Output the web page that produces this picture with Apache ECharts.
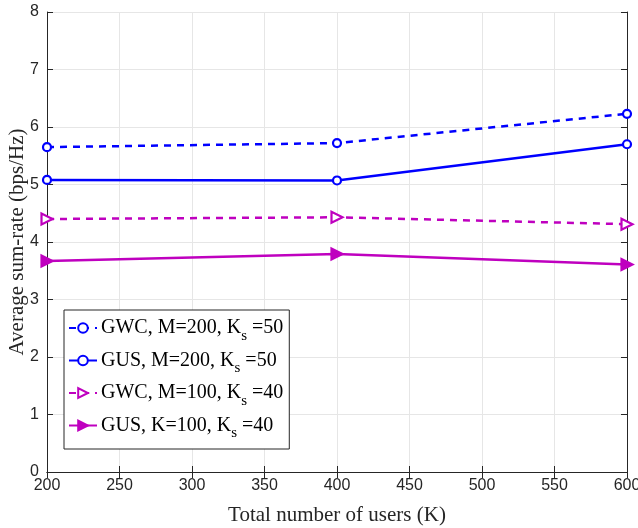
<!DOCTYPE html>
<html><head><meta charset="utf-8">
<script src="https://cdn.jsdelivr.net/npm/echarts@6/dist/echarts.min.js"></script>
<style>html,body{margin:0;padding:0;background:#fff}#c{width:638px;height:528px}</style>
</head><body><div id="c"></div>
<script>
const users = [200, 400, 600];
const names = ['GWC, M=200, K_s=50', 'GUS, M=200, K_s=50', 'GWC, M=100, K_s=40', 'GUS, K=100, K_s=40'];
const gwcM200 = [5.65, 5.72, 6.23];
const gusM200 = [5.08, 5.07, 5.70];
const gwcM100 = [4.40, 4.43, 4.31];
const gusK100 = [3.67, 3.79, 3.61];

const blue = '#0000ff', mag = '#bf00bf';
const serif = 'Liberation Serif, Times New Roman, serif';
const sans = 'Liberation Sans, Arial, sans-serif';
function mk(name, data, color, dashed, symbol, filled, rot) {
  return {
    name, type: 'line', data: users.map((u, i) => [u, data[i]]),
    xAxisIndex: 0, yAxisIndex: 0,
    symbol, symbolSize: symbol === 'circle' ? 8 : 11, symbolRotate: rot || 0,
    showAllSymbol: true,
    lineStyle: { color, width: 2.5, type: dashed ? [7, 6] : 'solid' },
    itemStyle: { color: filled ? color : '#fff', borderColor: color, borderWidth: 2.2 },
    emphasis: { disabled: true }
  };
}
const chart = echarts.init(document.getElementById('c'));
const axisCommon = {
  type: 'value', axisLine: { show: true, lineStyle: { color: '#262626', width: 1 } },
  axisTick: { show: true, inside: true, length: 6, lineStyle: { color: '#262626' } }
};
chart.setOption({
  animation: false,
  grid: { left: 47, right: 11, top: 12, bottom: 56, containLabel: false, outerBoundsMode: 'none' },
  xAxis: [
    Object.assign({}, axisCommon, {
      min: 200, max: 600, interval: 50, position: 'bottom',
      axisLabel: { color: '#262626', fontFamily: sans, fontSize: 16, margin: 6 },
      splitLine: { show: true, lineStyle: { color: '#e6e6e6', width: 1 } },
      name: 'Total number of users (K)', nameLocation: 'middle', nameGap: 33,
      nameTextStyle: { fontFamily: serif, fontSize: 21, color: '#262626' }
    }),
    Object.assign({}, axisCommon, { min: 200, max: 600, interval: 50, position: 'top', axisLabel: { show: false }, splitLine: { show: false } })
  ],
  yAxis: [
    Object.assign({}, axisCommon, {
      min: 0, max: 8, interval: 1, position: 'left',
      axisLabel: { color: '#262626', fontFamily: sans, fontSize: 16, margin: 8 },
      splitLine: { show: true, lineStyle: { color: '#e6e6e6', width: 1 } },
      name: 'Average sum-rate (bps/Hz)', nameLocation: 'middle', nameGap: 19, nameMoveOverlap: false,
      nameTextStyle: { fontFamily: serif, fontSize: 21, color: '#262626' }
    }),
    Object.assign({}, axisCommon, { min: 0, max: 8, interval: 1, position: 'right', axisLabel: { show: false }, splitLine: { show: false } })
  ],
  legend: {
    orient: 'vertical', left: 64, top: 310, data: names,
    backgroundColor: '#fff', borderColor: '#262626', borderWidth: 1,
    padding: [8, 6, 8, 4], itemGap: 7, itemWidth: 28, itemHeight: 12,
    formatter: n => n.replace('K_s', 'K{s|s} '),
    textStyle: {
      fontFamily: serif, fontSize: 20, color: '#000', padding: [0, 0, 0, -1],
      rich: { s: { fontFamily: serif, fontSize: 15, color: '#000', padding: [16, 0, 0, 0] } }
    }
  },
  series: [
    mk(names[0], gwcM200, blue, true, 'circle', false),
    mk(names[1], gusM200, blue, false, 'circle', false),
    mk(names[2], gwcM100, mag, true, 'triangle', false, -90),
    mk(names[3], gusK100, mag, false, 'triangle', true, -90)
  ]
});
</script></body></html>
